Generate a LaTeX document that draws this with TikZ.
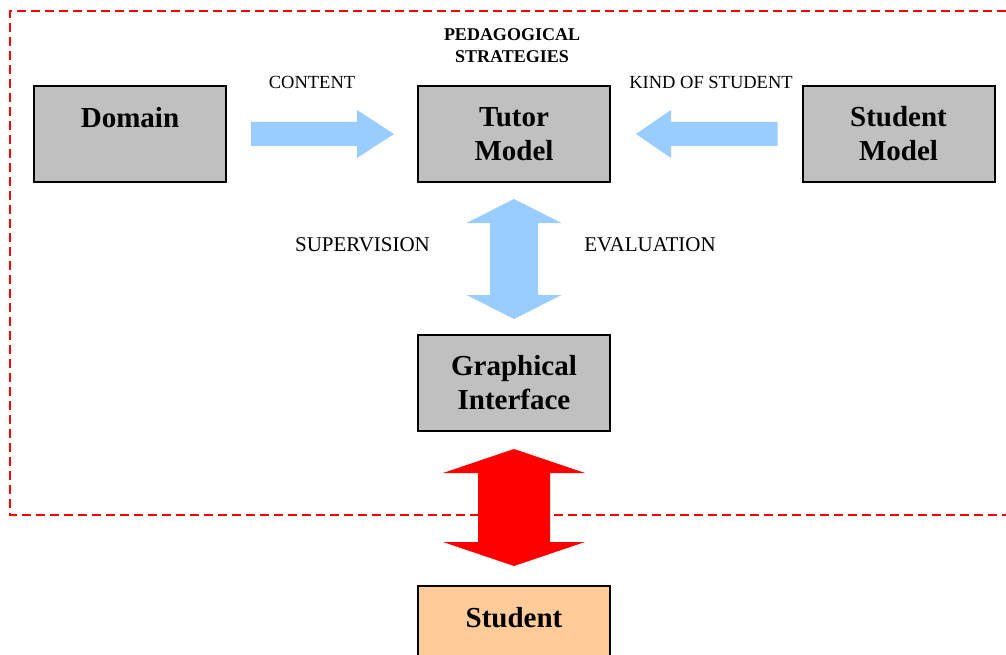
\documentclass[tikz,border=0pt]{standalone}
\usepackage{fontspec}
\setmainfont{Liberation Serif}
\usetikzlibrary{calc}
\definecolor{boxgray}{HTML}{C0C0C0}
\definecolor{arrowblue}{HTML}{99CCFF}
\definecolor{studentorange}{HTML}{FFCC99}
\definecolor{dashred}{HTML}{FF0000}
% single block arrow: colour, tail, tip, shaft half width, head half width, head length
\newcommand\singleblockarrow[6]{%
  \path ($(#3)!#6!(#2)$) coordinate (hb);
  \fill[#1] ($(#2)!#4!90:(#3)$) -- ($(hb)!#4!-90:(#2)$) -- ($(hb)!#5!-90:(#2)$) -- (#3)
    -- ($(hb)!#5!90:(#2)$) -- ($(hb)!#4!90:(#2)$) -- ($(#2)!#4!-90:(#3)$) -- cycle;}
% double block arrow: colour, tip A, tip B, shaft half width, head half width, head length
\newcommand\doubleblockarrow[6]{%
  \path ($(#2)!#6!(#3)$) coordinate (ha) ($(#3)!#6!(#2)$) coordinate (hb);
  \fill[#1] (#2) -- ($(ha)!#5!90:(#3)$) -- ($(ha)!#4!90:(#3)$) -- ($(hb)!#4!-90:(#2)$)
    -- ($(hb)!#5!-90:(#2)$) -- (#3) -- ($(hb)!#5!90:(#2)$) -- ($(hb)!#4!90:(#2)$)
    -- ($(ha)!#4!-90:(#3)$) -- ($(ha)!#5!-90:(#3)$) -- cycle;}
\begin{document}
\begin{tikzpicture}[x=1pt,y=-1pt,
  box/.style={draw=black, line width=2pt, fill=boxgray, minimum width=192pt, minimum height=96pt,
    inner sep=0pt, align=center, font=\fontsize{29}{34}\selectfont\bfseries},
  lbl/.style={font=\fontsize{18.5}{22}\selectfont, inner sep=0pt},
  biglbl/.style={font=\fontsize{21}{24}\selectfont, inner sep=0pt}]
\useasboundingbox (0,0) rectangle (1006,655);
% dashed system frame
\draw[dashred, line width=2.4pt, dash pattern=on 9pt off 5pt] (1006,11) -- (10,11) -- (10,515) -- (1006,515);
% boxes
\node[box] (domain) at (130,134) {Domain\\\phantom{M}};
\node[box] (tutor) at (514,134) {Tutor\\Model};
\node[box] (smodel) at (898.5,134) {Student\\Model};
\node[box] (gui) at (514,383) {Graphical\\Interface};
\node[box, fill=studentorange] (student) at (514,634) {Student\\\phantom{M}};
% labels
\node[lbl, font=\fontsize{18}{22}\selectfont\bfseries, align=center] (ped) at (512,46) {PEDAGOGICAL\\STRATEGIES};
\node[lbl] (content) at (312,82) {CONTENT};
\node[lbl] (kind) at (711,82) {KIND OF STUDENT};
\node[biglbl] (sup) at (362.5,245) {SUPERVISION};
\node[biglbl] (eval) at (650,245) {EVALUATION};
% connectors
\coordinate (r1) at ($(domain.east)+(24,0)$);
\coordinate (r2) at ($(tutor.west)+(-23,0)$);
\singleblockarrow{arrowblue}{r1}{r2}{12pt}{24pt}{37pt}
\coordinate (l1) at ($(smodel.west)+(-24,0)$);
\coordinate (l2) at ($(tutor.east)+(25,0)$);
\singleblockarrow{arrowblue}{l1}{l2}{12pt}{24pt}{35pt}
\coordinate (v1) at ($(tutor.south)+(0,16)$);
\coordinate (v2) at ($(gui.north)+(0,-15)$);
\doubleblockarrow{arrowblue}{v1}{v2}{24pt}{47.5pt}{24pt}
\coordinate (d1) at ($(gui.south)+(0,17)$);
\coordinate (d2) at ($(student.north)+(0,-19)$);
\doubleblockarrow{dashred}{d1}{d2}{36pt}{71pt}{24pt}
\end{tikzpicture}
\end{document}
